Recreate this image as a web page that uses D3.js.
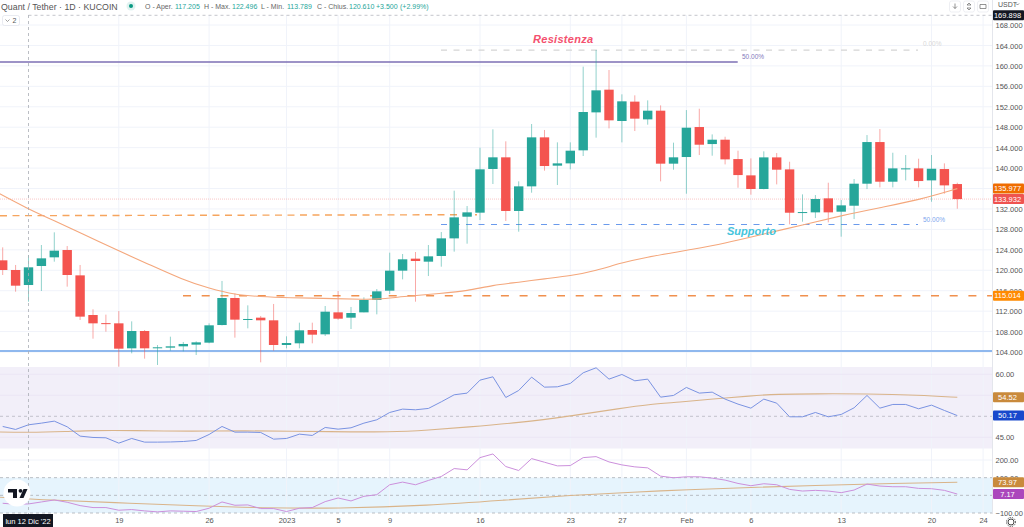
<!DOCTYPE html>
<html>
<head>
<meta charset="utf-8">
<script src="https://cdn.jsdelivr.net/npm/d3@7"></script>
<style>
html, body { margin: 0; padding: 0; background: #fff; overflow: hidden; }
svg { display: block; font-family: "Liberation Sans", Arial, sans-serif; }
.grid line { stroke: #f0f3fa; stroke-width: 1; }
.axisLabel { fill: #555; font-size: 7.5px; }
</style>
</head>
<body>
<svg id="chart" width="1024" height="527"></svg>
<script>
// first candle is day -2, day 0 is Mon 12 Dec 2022
var firstDay = -2;

// [open, high, low, close]
var candles = [
    [121.94, 124.48, 119.07, 120.05], [120.05, 121.03, 115.81, 116.98], [117.11, 122.98, 113.85, 120.57],
    [120.83, 124.94, 115.94, 122.33], [122.53, 127.42, 121.68, 123.83], [123.96, 124.74, 116.79, 119.07],
    [119.00, 121.03, 110.26, 110.92], [111.24, 112.35, 106.61, 109.61], [109.65, 111.31, 107.98, 109.55],
    [109.61, 112.02, 101.13, 104.65], [104.72, 110.00, 103.74, 108.11], [108.11, 108.30, 102.70, 104.72],
    [104.85, 105.37, 101.46, 104.92], [104.85, 107.00, 104.26, 105.11], [105.11, 105.96, 104.13, 105.57],
    [105.44, 106.09, 103.41, 105.89], [105.83, 109.61, 105.70, 109.22], [109.28, 117.90, 109.20, 114.57],
    [114.57, 115.48, 106.81, 110.33], [110.33, 113.13, 108.63, 110.46], [110.72, 111.05, 101.98, 110.20],
    [110.20, 113.40, 104.26, 105.37], [105.37, 107.07, 104.72, 105.76], [105.70, 109.74, 104.72, 108.24],
    [108.30, 109.74, 105.70, 107.39], [107.46, 113.00, 107.13, 111.89], [111.76, 115.94, 110.30, 110.52],
    [110.72, 112.81, 108.50, 111.63], [111.76, 114.70, 111.76, 114.18], [114.18, 116.33, 111.37, 115.87],
    [116.00, 123.44, 115.35, 119.92], [119.92, 123.18, 118.22, 122.14], [122.27, 123.57, 113.85, 121.81],
    [121.68, 124.94, 118.87, 122.72], [122.79, 127.48, 120.70, 126.24], [126.24, 135.57, 123.64, 130.35],
    [130.48, 132.57, 125.20, 131.33], [131.27, 143.99, 129.83, 139.75], [139.82, 147.58, 136.88, 142.10],
    [142.10, 145.23, 129.64, 131.60], [131.60, 137.40, 127.55, 136.42], [136.42, 148.62, 135.18, 146.01],
    [146.01, 147.45, 139.49, 140.40], [140.47, 145.03, 136.68, 140.92], [140.92, 145.03, 139.75, 143.40],
    [143.47, 159.84, 142.36, 150.97], [150.90, 163.10, 145.95, 155.21], [155.34, 159.19, 147.77, 149.34],
    [149.21, 154.43, 145.03, 153.06], [153.00, 154.23, 147.25, 149.67], [149.53, 153.25, 148.49, 151.23],
    [151.23, 152.27, 137.40, 140.86], [140.86, 144.97, 139.68, 142.10], [142.16, 151.35, 134.98, 147.90],
    [148.03, 151.61, 142.55, 144.57], [144.70, 146.59, 142.42, 145.55], [145.55, 146.13, 140.72, 141.70],
    [141.76, 143.40, 136.15, 138.63], [138.57, 141.89, 134.79, 135.90], [135.90, 143.27, 135.83, 142.09],
    [142.09, 142.94, 136.81, 139.68], [139.74, 141.24, 128.98, 131.26], [131.26, 134.85, 129.50, 131.39],
    [131.33, 134.72, 130.22, 133.94], [134.07, 137.13, 129.37, 131.33], [131.46, 133.74, 126.57, 132.70],
    [132.63, 137.85, 130.02, 136.94], [136.94, 146.46, 135.89, 145.09], [145.09, 147.64, 136.22, 137.33],
    [137.33, 143.00, 136.22, 139.94], [139.81, 142.55, 137.59, 139.94], [139.94, 141.83, 136.22, 137.46],
    [137.59, 142.55, 133.41, 139.87], [139.81, 140.92, 134.98, 136.61], [136.87, 137.13, 132.04, 133.93]
];

var maDays   = [-3, 0, 2, 4, 7, 9, 12, 14, 16, 18, 20, 24, 26, 27, 29, 32, 34, 36, 38, 40, 42, 44, 46, 48, 50, 51, 54, 57, 60, 63, 66, 69, 72];
var maValues = [136.0, 131.92, 129.7, 127.35, 123.77, 121.55, 118.09, 116.46, 115.22, 114.83, 114.63, 114.44, 114.3, 114.3, 114.83, 115.48, 115.94, 117.1, 117.63, 118.35, 118.87, 119.92, 121.48, 122.59, 123.44, 123.9, 125.27, 127.1, 128.86, 130.68, 132.25, 133.75, 135.98];

var rsiValues = [47.58, 46.87, 47.98, 48.37, 48.85, 47.5, 45.28, 44.96, 44.88, 43.61, 44.72, 43.85, 43.85, 43.89, 44.0, 44.25, 45.67, 47.58, 46.23, 46.23, 46.15, 44.56, 44.72, 45.75, 45.44, 47.34, 46.94, 47.26, 48.37, 49.17, 50.91, 51.71, 51.55, 51.87, 53.45, 55.12, 55.52, 58.61, 59.4, 54.48, 56.15, 59.33, 56.94, 57.02, 57.82, 60.36, 61.55, 58.85, 59.96, 58.45, 58.85, 54.56, 54.96, 56.87, 55.52, 55.75, 54.09, 52.9, 51.94, 54.09, 53.13, 49.88, 49.88, 50.91, 49.88, 50.44, 52.02, 54.96, 51.94, 52.82, 52.82, 51.79, 52.66, 51.39, 50.17];
var rsiMaDays   = [-3, 0, 3, 5, 8, 13, 16, 24, 28, 31, 34, 38, 42, 46, 48, 50.5, 53, 56, 58, 61, 65, 69, 72];
var rsiMaValues = [46.31, 46.15, 46.39, 46.63, 46.63, 46.39, 46.63, 46.31, 46.23, 46.71, 47.42, 48.45, 50.04, 51.94, 52.82, 53.37, 54.09, 54.88, 55.28, 55.36, 55.36, 55.04, 54.52];

var oscValues = [-45, -50.6, -48.7, -37.5, -26.2, -39.3, -58.1, -69.3, -69.3, -84.3, -80.5, -88, -93.7, -88, -89.9, -91.8, -73, -37.5, -56.2, -54.3, -74.9, -74.9, -91.8, -73, -69.3, -35.6, -15, -31.8, -5.6, 3.7, 59.9, 74.9, 59.9, 84.3, 106.8, 151.7, 144.2, 213.5, 234.1, 163, 140.5, 207.9, 187.3, 166.7, 168.6, 213.5, 219.1, 189.2, 172.3, 161.1, 155.5, 108.6, 99.3, 104.9, 104.9, 97.4, 86.2, 67.4, 54.3, 65.6, 59.9, 33.7, 24.3, 28.1, 24.3, 15, 30, 63.7, 52.4, 48.7, 48.7, 39.3, 37.5, 28.1, 7.17];
var oscMaDays   = [-3, 0, 2, 8, 13, 18, 24, 31, 37, 42, 47, 51, 56, 61, 66, 72];
var oscMaValues = [-7, -20.6, -28.1, -45, -59.9, -71.2, -74.9, -58.1, -26.2, 0, 18.7, 31.8, 45, 56.2, 65.6, 73.97];

var tickDays   = [7, 14, 20, 24, 28, 35, 42, 46, 51, 56, 63, 70, 74];
var tickLabels = ["19", "26", "2023", "5", "9", "16", "23", "27", "Feb", "6", "13", "20", "24"];
var priceGrid = d3.range(104, 169, 4);
// 136 sits right under the 135.977 tag
var priceTicks = priceGrid.filter(function(d) { return d != 136; });
var rsiTicks = [60, 45];
var rsiGrid = [60, 55, 45];
var oscTicks = [200, 100, -100];

var svg = d3.select("#chart"),
    chartRight = 992;

var x = d3.scaleLinear().domain([0, 72]).range([28.5, 957.3]);
var y = d3.scaleLinear().domain([104, 168]).range([352, 25]);
var yRsi = d3.scaleLinear().domain([45, 60]).range([437.3, 374.3]);
var yOsc = d3.scaleLinear().domain([-100, 200]).range([513, 460]);

svg.append("clipPath").attr("id", "plot").append("rect")
    .attr("width", chartRight).attr("height", 527);

// panel backgrounds
svg.append("rect").attr("x", 0).attr("y", 367).attr("width", chartRight).attr("height", 81.5).attr("fill", "#f2eff9");
svg.append("rect").attr("x", 0).attr("y", yOsc(100)).attr("width", chartRight).attr("height", yOsc(-100) - yOsc(100)).attr("fill", "#e6f4fd");

// grid
var grid = svg.append("g").attr("class", "grid");
grid.selectAll(".v").data(tickDays).enter().append("line")
    .attr("x1", function(d) { return x(d); }).attr("x2", function(d) { return x(d); })
    .attr("y1", 15).attr("y2", 513);
grid.selectAll(".h").data(priceGrid).enter().append("line")
    .attr("x1", 0).attr("x2", chartRight)
    .attr("y1", function(d) { return y(d); }).attr("y2", function(d) { return y(d); });
grid.selectAll(".r").data(rsiGrid).enter().append("line")
    .attr("x1", 0).attr("x2", chartRight)
    .attr("y1", function(d) { return yRsi(d); }).attr("y2", function(d) { return yRsi(d); })
    .style("stroke", "#ebe7f5");
grid.append("line").attr("x1", 0).attr("x2", chartRight).attr("y1", yOsc(200)).attr("y2", yOsc(200));

function hline(yPos, x1, x2, color, width, dash) {
    svg.append("line")
        .attr("x1", x1).attr("x2", x2).attr("y1", yPos).attr("y2", yPos)
        .attr("stroke", color).attr("stroke-width", width)
        .attr("stroke-dasharray", dash);
}

// panel level lines
hline(yRsi(50), 0, chartRight, "#b8b8c0", 0.8, "3,3");
[100, 0, -100].forEach(function(d) {
    hline(yOsc(d), 0, chartRight, "#a9aeb5", 0.8, "3,3");
});

// drawn levels on the price pane
hline(y(169.898), 28.5, chartRight, "#b5b8bf", 0.8, "3,3");
hline(y(133.932), 0, chartRight, "#f6b8b6", 0.8, "1,1");
hline(y(163.1), 441, 918, "#d5d5d5", 1.2, "6,6.5");
hline(y(160.75), 0, 737.7, "#7c6fb4", 1.4);
hline(y(128.95), 441, 918, "#6a9aec", 1.2, "6,6.5");
hline(y(115.014), 183, chartRight, "#f0904e", 1.7, "8,10.7");
hline(y(104.2), 0, chartRight, "#8fb8ee", 2);
svg.append("line").attr("x1", 0).attr("x2", 477).attr("y1", 215.7).attr("y2", 214.7)
    .attr("stroke", "#f6a55e").attr("stroke-width", 1.4).attr("stroke-dasharray", "7,5.5");

// candles
var green = "#26a69a", red = "#f4544f";
var plot = svg.append("g").attr("clip-path", "url(#plot)");

function isUp(d) { return d[3] >= d[0]; }
function dayOf(i) { return i + firstDay; }

plot.selectAll(".wick").data(candles).enter().append("line")
    .attr("class", "wick")
    .attr("x1", function(d, i) { return x(dayOf(i)); })
    .attr("x2", function(d, i) { return x(dayOf(i)); })
    .attr("y1", function(d) { return y(d[1]); })
    .attr("y2", function(d) { return y(d[2]); })
    .attr("stroke", function(d) { return isUp(d) ? green : red; })
    .attr("stroke-opacity", 0.5)
    .attr("stroke-width", 1);

plot.selectAll(".bar").data(candles).enter().append("rect")
    .attr("class", "bar")
    .attr("x", function(d, i) { return x(dayOf(i)) - 4.7; })
    .attr("width", 9.4)
    .attr("y", function(d) { return y(Math.max(d[0], d[3])); })
    .attr("height", function(d) { return Math.max(1, Math.abs(y(d[0]) - y(d[3]))); })
    .attr("fill", function(d) { return isUp(d) ? green : red; });

// lines
function drawLine(days, values, scale, color, width, curve) {
    var line = d3.line()
        .x(function(d, i) { return x(days[i]); })
        .y(function(d) { return scale(d); })
        .curve(curve);
    plot.append("path").datum(values)
        .attr("fill", "none").attr("stroke", color).attr("stroke-width", width)
        .attr("d", line);
}
var allDays = candles.map(function(d, i) { return dayOf(i); });

drawLine(maDays, maValues, y, "#f4a77c", 1.1, d3.curveBasis);
drawLine(rsiMaDays, rsiMaValues, yRsi, "#d9b48a", 1.1, d3.curveBasis);
drawLine(allDays, rsiValues, yRsi, "#7a93e2", 1, d3.curveLinear);
drawLine(oscMaDays, oscMaValues, yOsc, "#d9b48a", 1.1, d3.curveBasis);
drawLine(allDays, oscValues, yOsc, "#cc90dc", 1, d3.curveLinear);

// crosshair, over the panes
svg.append("line").attr("x1", 28.5).attr("x2", 28.5).attr("y1", 15).attr("y2", 514)
    .attr("stroke", "#a9adb5").attr("stroke-width", 0.8).attr("stroke-dasharray", "3,3");

// right and bottom axes
svg.append("rect").attr("x", chartRight).attr("y", 0).attr("width", 32).attr("height", 527).attr("fill", "#fff");
svg.append("rect").attr("x", 0).attr("y", 514).attr("width", 1024).attr("height", 13).attr("fill", "#fff");
svg.append("line").attr("x1", chartRight + 0.5).attr("x2", chartRight + 0.5).attr("y1", 0).attr("y2", 514).attr("stroke", "#e4e6ec");

var fmt2 = d3.format(".2f");
function styleAxis(g) {
    g.select(".domain").remove();
    g.selectAll("text").attr("class", "axisLabel").attr("x", 3.5).attr("dy", "0.34em");
    g.attr("font-size", null).attr("font-family", null);
}
svg.append("g").attr("transform", "translate(" + chartRight + ",0)")
    .call(d3.axisRight(y).tickValues(priceTicks).tickSize(0).tickFormat(d3.format(".3f"))).call(styleAxis);
svg.append("g").attr("transform", "translate(" + chartRight + ",0)")
    .call(d3.axisRight(yRsi).tickValues(rsiTicks).tickSize(0).tickFormat(fmt2)).call(styleAxis);
svg.append("g").attr("transform", "translate(" + chartRight + ",0)")
    .call(d3.axisRight(yOsc).tickValues(oscTicks).tickSize(0).tickFormat(function(d) { return fmt2(d).replace("-", "\u2212"); })).call(styleAxis);

var xAxis = svg.append("g").attr("transform", "translate(0,516)")
    .call(d3.axisBottom(x).tickValues(tickDays).tickSize(0)
        .tickFormat(function(d, i) { return tickLabels[i]; }));
xAxis.select(".domain").remove();
xAxis.selectAll("text").attr("class", "axisLabel").attr("y", 2).attr("dy", "0.71em");
xAxis.attr("font-size", null).attr("font-family", null);

// value tags on the right
function tag(yPos, color, text) {
    svg.append("rect").attr("x", chartRight + 1).attr("y", yPos - 5).attr("width", 31).attr("height", 10)
        .attr("rx", 1).attr("fill", color);
    svg.append("text").attr("x", 1007.5).attr("y", yPos).attr("dy", "0.35em")
        .attr("text-anchor", "middle").attr("fill", "#fff").style("font-size", "7.5px").text(text);
}
tag(y(169.898), "#131722", "169.898");
tag(y(135.977), "#ef6c00", "135.977");
tag(y(133.932), "#ef5350", "133.932");
tag(y(115.014), "#ff8a00", "115.014");
tag(yRsi(54.52), "#c98a3c", "54.52");
tag(yRsi(50.17), "#1848cc", "50.17");
tag(yOsc(73.97), "#c98a3c", "73.97");
tag(yOsc(7.17), "#ab47bc", "7.17");

function label(xPos, yPos, text, color, size, anchor, slanted) {
    var t = svg.append("text").attr("x", xPos).attr("y", yPos).attr("dy", "0.35em")
        .attr("fill", color).style("font-size", size + "px")
        .attr("text-anchor", anchor || "start").text(text);
    if (slanted) { t.style("font-style", "italic").style("font-weight", "bold"); }
    return t;
}

// annotations
label(533, 39.5, "Resistenza", "#f4506e", 11, "start", true).style("letter-spacing", "0.3px");
label(727, 231, "Supporto", "#45c4dc", 11, "start", true);
label(742, 56.5, "50.00%", "#8478bc", 6.5);
label(923, 44, "0.00%", "#d8d8d8", 6.5);
label(923, 219.5, "50.00%", "#7ea6ee", 6.5);

// header
label(1, 6.5, "Quant / Tether \u00b7 1D \u00b7 KUCOIN", "#555", 8.8);
svg.append("circle").attr("cx", 131).attr("cy", 6).attr("r", 4.5).attr("fill", "#26a69a").attr("fill-opacity", 0.15);
svg.append("circle").attr("cx", 131).attr("cy", 6).attr("r", 2).attr("fill", "#089981");

var legendItems = ["O - Aper.", "117.205", "H - Max.", "122.496", "L - Min.", "113.789", "C - Chius.", "120.610", "+3.500", "(+2.99%)"];
var legendX = [145, 175, 204, 232, 261, 287, 317, 349, 376, 400];
legendItems.forEach(function(d, i) {
    var isValue = /\d/.test(d);
    label(legendX[i], 7, d, isValue ? "#26a69a" : "#666", 7);
});

// collapsed indicators button
svg.append("rect").attr("x", 2.5).attr("y", 15.5).attr("width", 17).attr("height", 10).attr("rx", 2)
    .attr("fill", "#fff").attr("stroke", "#e0e3eb").attr("stroke-width", 0.7);
svg.append("path").attr("d", "M5.5 19.5l2 2 2-2").attr("fill", "none").attr("stroke", "#777").attr("stroke-width", 0.7);
label(12.5, 20.5, "2", "#555", 7);

// pane buttons top right
[955, 969, 983].forEach(function(cx) {
    svg.append("rect").attr("x", cx - 5.5).attr("y", 1).attr("width", 11).attr("height", 11).attr("rx", 2)
        .attr("fill", "#fff").attr("stroke", "#e6e8ee").attr("stroke-width", 0.7);
});
svg.append("path").attr("d", "M955 3.5v5M953 6.5l2 2 2-2M969 3l-2 2h4zM969 10l-2-2h4zM980 4.5h6v4h-6z")
    .attr("fill", "none").attr("stroke", "#666").attr("stroke-width", 0.7);
label(998, 4.5, "USDT", "#555", 7);
svg.append("path").attr("d", "M1016 3.5l1.5 1.5 1.5-1.5").attr("fill", "none").attr("stroke", "#555").attr("stroke-width", 0.7);

// date tag and gear
svg.append("rect").attr("x", 3).attr("y", 514).attr("width", 50).attr("height", 13).attr("fill", "#131722");
label(28, 521, "lun 12 Dic '22", "#fff", 7.5, "middle");
svg.append("circle").attr("cx", 1011).attr("cy", 522).attr("r", 3).attr("fill", "none").attr("stroke", "#444").attr("stroke-width", 1);
svg.append("circle").attr("cx", 1011).attr("cy", 522).attr("r", 4.5).attr("fill", "none").attr("stroke", "#444").attr("stroke-width", 1).attr("stroke-dasharray", "1.2,1.2");

// logo
svg.append("circle").attr("cx", 17).attr("cy", 493).attr("r", 13.5).attr("fill", "#fff");
svg.append("path").attr("fill", "#131722")
    .attr("d", "M8 489h9v9h-4v-5.5h-5zM19.5 498l4-9h4l-4 9z");
svg.append("circle").attr("cx", 20.5).attr("cy", 490.8).attr("r", 1.9).attr("fill", "#131722");
</script>
</body>
</html>
